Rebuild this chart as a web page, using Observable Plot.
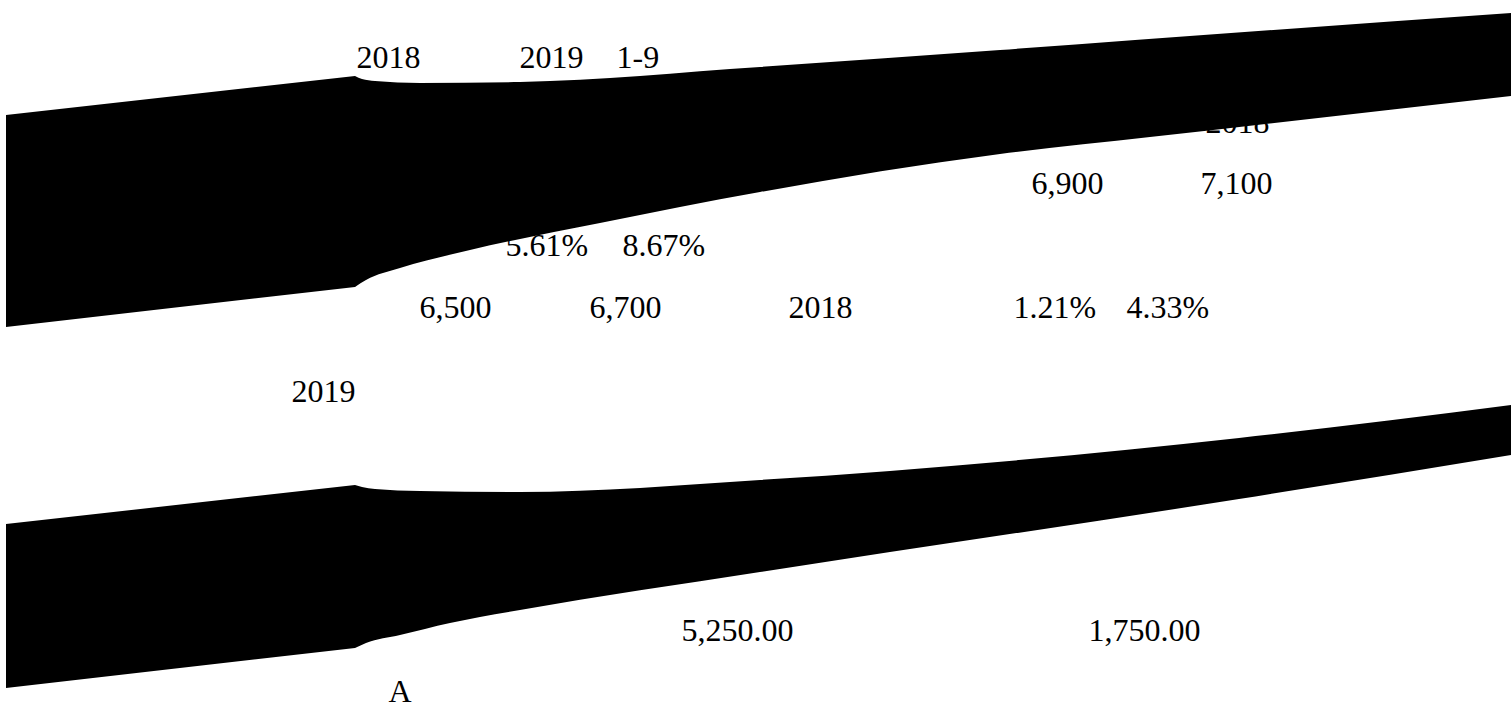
<!DOCTYPE html>
<html>
<head>
<meta charset="utf-8">
<script src="https://cdn.jsdelivr.net/npm/d3@7"></script>
<script src="https://cdn.jsdelivr.net/npm/@observablehq/plot@0.6"></script>
<style>
  html, body { margin: 0; padding: 0; background: #fff; overflow: hidden; }
  #chart svg { display: block; }
</style>
</head>
<body>
<div id="chart"></div>
<script>
// ---- Labels (text, x, baseline y) ----
const labelText = ["2018", "2019", "1-9", "5.61%", "8.67%", "6,500", "6,700", "2018", "1.21%", "4.33%", "6,900", "7,100", "2018", "2019", "5,250.00", "1,750.00", "A"];
const labelX    = [356, 519, 616, 505, 622, 419, 589, 788, 1013, 1126, 1031, 1200, 1205, 291, 681, 1088, 388];
const labelY    = [67, 67, 67, 255, 255, 317, 317, 317, 317, 317, 193, 193, 132, 401, 640, 640, 701];

// ---- Band 1 (upper ribbon) ----
const band1LeftTopX = [6, 355],  band1LeftTopY = [115, 76];
const band1LeftBotX = [6, 355],  band1LeftBotY = [327, 287];
const band1RightTopX = [355, 362, 375, 420, 520, 760, 1000, 1135, 1511];
const band1RightTopY = [76, 79, 81, 83, 82, 67, 50, 40, 13];
const band1RightBotX = [355, 366, 400, 470, 600, 760, 1000, 1150, 1511];
const band1RightBotY = [287, 280, 268, 250, 223, 192, 154, 137, 96];

// ---- Band 2 (lower ribbon) ----
const band2LeftTopX = [6, 355],  band2LeftTopY = [524, 485];
const band2LeftBotX = [6, 355],  band2LeftBotY = [688, 648];
const band2RightTopX = [355, 362, 375, 420, 520, 760, 1239, 1511];
const band2RightTopY = [485, 487, 489, 491, 492, 480, 438, 405];
const band2RightBotX = [355, 366, 400, 450, 520, 760, 1239, 1511];
const band2RightBotY = [648, 643, 635, 623, 610, 572, 499, 455];

function ribbon(band, tx, ty, bx, by) {
  return tx.map((_, i) => ({band, x1: tx[i], y1: ty[i], x2: bx[i], y2: by[i]}));
}
const leftSegs = [
  ...ribbon("b1", band1LeftTopX, band1LeftTopY, band1LeftBotX, band1LeftBotY),
  ...ribbon("b2", band2LeftTopX, band2LeftTopY, band2LeftBotX, band2LeftBotY)
];
const rightSegs = [
  ...ribbon("b1", band1RightTopX, band1RightTopY, band1RightBotX, band1RightBotY),
  ...ribbon("b2", band2RightTopX, band2RightTopY, band2RightBotX, band2RightBotY)
];
const labels = labelText.map((t, i) => ({t, x: labelX[i], y: labelY[i]}));

const W = 1511, H = 709;
const chart = Plot.plot({
  width: W,
  height: H,
  margin: 0,
  x: {domain: [0, W], range: [0, W], axis: null},
  y: {domain: [0, H], range: [0, H], axis: null},
  style: {background: "#fff"},
  marks: [
    Plot.text(labels, {
      x: "x", y: "y", text: "t",
      textAnchor: "start", lineAnchor: "bottom",
      fontFamily: "Liberation Serif, Times New Roman, serif",
      fontSize: 32, fill: "#000"
    }),
    Plot.area(leftSegs, {x1: "x1", y1: "y1", x2: "x2", y2: "y2", z: "band", fill: "#000", curve: "linear"}),
    Plot.area(rightSegs, {x1: "x1", y1: "y1", x2: "x2", y2: "y2", z: "band", fill: "#000", curve: "monotone-x"})
  ]
});
document.getElementById("chart").appendChild(chart);
</script>
</body>
</html>
